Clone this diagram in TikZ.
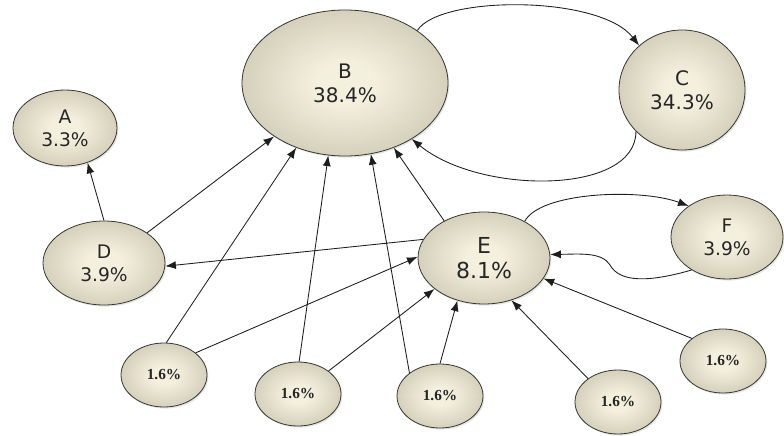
\documentclass[tikz,border=0pt]{standalone}
\usepackage{fontspec}
\setsansfont{DejaVu Sans}
\newfontfamily\pctfont{Liberation Serif}
\usetikzlibrary{shapes.geometric,shadows,arrows.meta}
\definecolor{ballin}{HTML}{F4F0DE}
\definecolor{ballmid}{HTML}{D2CDB7}
\definecolor{ballout}{HTML}{9B9680}
\definecolor{balledge}{HTML}{363632}
\definecolor{linkgray}{HTML}{1E1E1E}
\pgfdeclareradialshading{ballshade}{\pgfpoint{0bp}{0bp}}{color(0bp)=(ballin); color(7bp)=(ballin); color(27bp)=(ballmid); color(50bp)=(ballout); color(52bp)=(ballout)}

\begin{document}
\begin{tikzpicture}[x=0.75pt, y=-0.75pt,
        ball/.style={ellipse, draw=balledge, line width=0.6pt, shade, shading=ballshade,
          inner sep=0pt, align=center, text=black!85,
          drop shadow={shadow xshift=1pt, shadow yshift=-1.2pt, opacity=0.2}},
        big/.style={ball, font=\sffamily\fontsize{15}{18}\selectfont},
        mid/.style={ball, font=\sffamily\fontsize{14}{17}\selectfont},
        leaf/.style={ball, minimum width=64.5pt, minimum height=48pt,
          font=\pctfont\bfseries\fontsize{11.5}{13}\selectfont},
        link/.style={draw=linkgray, line width=0.65pt, -{Latex[length=8pt, width=6pt]}},
      ]
      \useasboundingbox (0,0) rectangle (784,435);

      % Shares
      \node[big, minimum width=154.5pt, minimum height=109.5pt] (b) at (345,83) {B\\38.4\%};
      \node[big, minimum width=94.5pt, minimum height=90pt] (c) at (682,90) {C\\34.3\%};
      \node[mid, minimum width=78pt, minimum height=57pt] (a) at (65,128) {A\\3.3\%};
      \node[mid, minimum width=91.5pt, minimum height=63pt] (d) at (104,263) {D\\3.9\%};
      \node[big, minimum width=99pt, minimum height=69pt, font=\sffamily\fontsize{16.5}{19}\selectfont] (e) at (484,258) {E\\8.1\%};
      \node[mid, minimum width=84pt, minimum height=63pt] (f) at (727,237) {F\\3.9\%};

      % Small ones
      \node[leaf] (s1) at (164,375) {1.6\%};
      \node[leaf] (s2) at (298,394) {1.6\%};
      \node[leaf] (s3) at (440,396) {1.6\%};
      \node[leaf] (s4) at (618,402) {1.6\%};
      \node[leaf] (s5) at (723,361) {1.6\%};

      % Links into B
      \draw[link] (d.35) -- (b.217);
      \draw[link] (s1.86) -- (b.233);
      \draw[link] (s2.88) -- (b.257);
      \draw[link] (s3.143) -- (b.290);
      \draw[link] (e.137) -- (b.-53);

      % Links into E
      \draw[link] (s1.35) -- (e.179);
      \draw[link] (s2.37) -- (e.212);
      \draw[link] (s3.90) -- (e.238);
      \draw[link] (s4.142) -- (e.-57);
      \draw[link] (s5.144) -- (e.-19);

      % D and A
      \draw[link] (e.163) -- (d.-3);
      \draw[link] (d.90) -- (a.-57);

      % Loops B-C and E-F
      \draw[link] (b.36) .. controls (440,-5) and (600,-5) .. (c.134);
      \draw[link] (c.222) .. controls (636,195) and (480,195) .. (b.-40);
      \draw[link] (e.42) .. controls (540,192) and (640,188) .. (f.141);
      \draw[link] (f.223) .. controls (650,282) and (620,283) .. (610,265)
        .. controls (602,252) and (580,254) .. (e.3);
    \end{tikzpicture}
\end{document}
